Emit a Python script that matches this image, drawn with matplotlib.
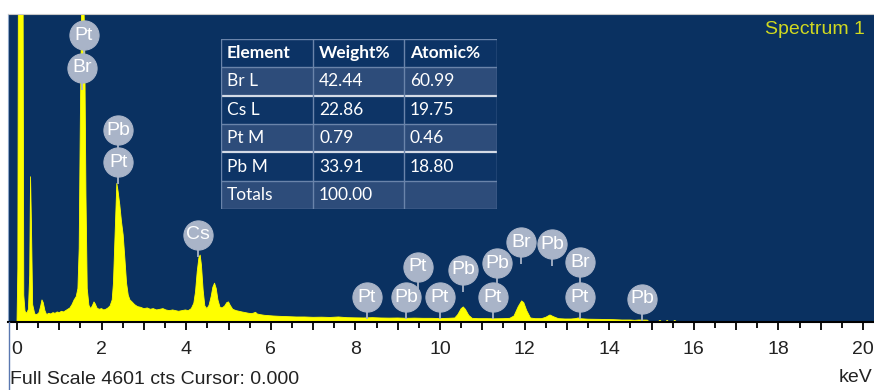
import numpy as np
import matplotlib
matplotlib.use("Agg")
import matplotlib.pyplot as plt
from matplotlib.ticker import MultipleLocator, FuncFormatter
from matplotlib.patches import Rectangle
from matplotlib.lines import Line2D

# EDS spectrum, energy (keV) vs counts
energy = [0.00, 0.02, 0.035, 0.09, 0.14, 0.16, 0.19, 0.23, 0.27, 0.30, 0.32, 0.34, 0.37,
          0.42, 0.47, 0.52, 0.56, 0.59, 0.62, 0.66, 0.70, 0.75, 0.80, 0.85, 0.90, 0.95,
          1.00, 1.05, 1.10, 1.15, 1.20, 1.25, 1.30, 1.35, 1.40, 1.44, 1.47, 1.50, 1.53,
          1.57, 1.60, 1.63, 1.66, 1.70, 1.74, 1.78, 1.82, 1.85, 1.89, 1.94, 2.00, 2.05,
          2.10, 2.15, 2.20, 2.25, 2.28, 2.32, 2.36, 2.39, 2.43, 2.47, 2.51, 2.55, 2.59,
          2.63, 2.67, 2.72, 2.78, 2.85, 2.92, 3.00, 3.08, 3.15, 3.22, 3.30, 3.38, 3.45,
          3.52, 3.60, 3.68, 3.75, 3.82, 3.90, 3.98, 4.05, 4.12, 4.18, 4.22, 4.26, 4.30,
          4.33, 4.36, 4.40, 4.44, 4.49, 4.54, 4.59, 4.63, 4.67, 4.71, 4.75, 4.80, 4.85,
          4.91, 4.96, 5.00, 5.04, 5.10, 5.18, 5.25, 5.32, 5.40, 5.48, 5.55, 5.60, 5.64,
          5.68, 5.75, 5.85, 5.95, 6.05, 6.20, 6.40, 6.60, 6.80, 7.00, 7.20, 7.40, 7.60,
          7.80, 8.00, 8.20, 8.40, 8.60, 8.80, 9.00, 9.20, 9.40, 9.60, 9.80, 10.00, 10.20,
          10.35, 10.42, 10.50, 10.55, 10.60, 10.68, 10.76, 10.90, 11.10, 11.30, 11.50,
          11.65, 11.75, 11.85, 11.93, 11.98, 12.05, 12.14, 12.25, 12.40, 12.50, 12.60,
          12.68, 12.80, 12.95, 13.10, 13.20, 13.27, 13.35, 13.50, 13.70, 13.90, 14.10,
          14.30, 14.50, 14.60, 14.70, 14.90, 14.95, 15.15, 15.20, 15.25, 15.33, 15.37,
          15.41, 15.50, 15.55, 15.60, 20.00]
counts = [0, 800, 6000, 9000, 6000, 400, 160, 130, 190, 700, 2170, 1500, 260,
          120, 110, 140, 240, 330, 290, 170, 110, 130, 120, 140, 130, 150,
          140, 160, 150, 170, 190, 210, 260, 330, 380, 500, 1100, 3200, 4800,
          5100, 4200, 1900, 500, 250, 200, 240, 300, 270, 210, 190, 200, 180,
          190, 210, 240, 330, 580, 1330, 2070, 1950, 1750, 1500, 1300, 950, 580,
          400, 330, 300, 260, 230, 220, 200, 210, 190, 200, 180, 190, 200,
          180, 170, 180, 170, 160, 170, 180, 170, 200, 280, 450, 750, 960,
          1000, 850, 480, 240, 200, 250, 380, 520, 580, 500, 330, 220, 210,
          240, 290, 300, 250, 190, 170, 160, 150, 140, 130, 125, 135, 145,
          120, 110, 100, 95, 90, 85, 80, 75, 75, 70, 72, 68, 75,
          65, 62, 60, 65, 60, 58, 60, 55, 58, 55, 55, 52, 55,
          60, 110, 200, 225, 190, 100, 55, 50, 50, 48, 50,
          55, 90, 230, 315, 290, 170, 60, 50, 50, 70, 105,
          80, 50, 45, 45, 50, 60, 48, 42, 40, 38, 35,
          30, 30, 25, 30, 28, 0, 0, 25, 0, 0, 25,
          0, 0, 25, 0, 0]

# element markers: symbol, energy (keV), badge height (counts)
mark_el = ["Pt", "Br", "Pb", "Pt", "Cs", "Pt", "Pb", "Pt", "Pt", "Pb", "Pb", "Pt",
           "Br", "Pb", "Br", "Pt", "Pb"]
mark_kev = [1.58, 1.54, 2.39, 2.39, 4.28, 8.27, 9.20, 9.48, 10.00, 10.55, 11.35, 11.25,
            11.92, 12.65, 13.31, 13.31, 14.78]
mark_cts = [4287, 3795, 2868, 2390, 1300, 373, 373, 822, 373, 777, 881, 373,
            1195, 1165, 896, 373, 344]

# quantification table
tbl_header = ["Element", "Weight%", "Atomic%"]
tbl_element = ["Br L", "Cs L", "Pt M", "Pb M", "Totals"]
tbl_weight = ["42.44", "22.86", "0.79", "33.91", "100.00"]
tbl_atomic = ["60.99", "19.75", "0.46", "18.80", ""]

full_scale = 4601
bg = "#0a3161"
badge = "#a9b4c8"

W, H = 874, 390
fig = plt.figure(figsize=(W / 100, H / 100), dpi=100)
ax = fig.add_axes([8 / W, (H - 322) / H, (W - 8) / W, (322 - 14) / H])
ax.set_facecolor(bg)

ax.fill_between(energy, counts, 0, color="#ffff00", edgecolor="#ffff00", linewidth=0.6, zorder=2)
ax.set_xlim(-0.213, 20.26)
ax.set_ylim(0, full_scale)

# badges with short stems
px = full_scale / 308.0
for el, e, c in zip(mark_el, mark_kev, mark_cts):
    ax.plot([e, e], [c - 22 * px, c], color=badge, lw=1.3, zorder=3, solid_capstyle="butt")
    ax.plot(e, c, "o", ms=21, mfc=badge, mec=badge, mew=0.8, zorder=4)
    ax.text(e, c, el, ha="center", va="center", color="white", fontsize=14,
            family="Liberation Sans", zorder=5)

ax.text(0.9896, 0.951, "Spectrum 1", transform=ax.transAxes, ha="right", va="center",
        color="#d0d820", fontsize=14, family="Liberation Sans")

ax.xaxis.set_major_locator(MultipleLocator(1))
ax.xaxis.set_minor_locator(MultipleLocator(0.5))
ax.xaxis.set_major_formatter(FuncFormatter(lambda v, p: "%d" % v if round(v) % 2 == 0 else ""))
ax.tick_params(axis="x", which="major", direction="out", length=6, width=1.3, pad=8,
               labelsize=14, colors="black")
ax.tick_params(axis="x", which="minor", direction="out", length=4, width=1.3)
for lab in ax.get_xticklabels():
    lab.set_family("Liberation Sans")
    lab.set_color("#222222")
ax.set_yticks([])

ax.spines["bottom"].set_color("black")
ax.spines["bottom"].set_linewidth(1.5)
ax.spines["top"].set_color("#c8c8c8")
ax.spines["left"].set_color("#8ea6c8")
ax.spines["right"].set_visible(False)

fig.text(10 / W, (H - 380) / H, "Full Scale 4601 cts Cursor: 0.000", ha="left", va="center",
         fontsize=14, family="Liberation Sans", color="#222222")
fig.text(872 / W, (H - 378) / H, "keV", ha="right", va="center",
         fontsize=14, family="Liberation Sans", color="#222222")
fig.add_artist(Line2D([8.5 / W, 8.5 / W], [0, (H - 322) / H], color="#5a78b0", lw=1))

# table drawn in its own pixel-scaled axes
tx = fig.add_axes([221 / W, (H - 209) / H, 276 / W, 170 / H])
tx.set_xlim(0, 276)
tx.set_ylim(170, 0)
tx.axis("off")
col_x = [0, 92, 183, 276]
row_h = 170 / 6.0
row_cols = ["#0c3365", "#2d4c7a", "#0d3466", "#2d4c7a", "#0d3466", "#2d4c7a"]
rows = [tbl_header] + [[a, b, c] for a, b, c in zip(tbl_element, tbl_weight, tbl_atomic)]
for i, row in enumerate(rows):
    tx.add_patch(Rectangle((0, i * row_h), 276, row_h, facecolor=row_cols[i],
                           edgecolor="none", zorder=1))
    for j, s in enumerate(row):
        tx.text(col_x[j] + 6, (i + 0.5) * row_h, s, ha="left", va="center", color="white",
                fontsize=12.5, family="Lato", fontweight="bold" if i == 0 else "normal", zorder=3)
grid = "#6a84aa"
for i in range(7):
    lw, col = 1.0, grid
    if i in (2, 4):
        lw, col = 1.6, "#d4dbe6"
    tx.plot([0, 276], [i * row_h, i * row_h], color=col, lw=lw, zorder=2)
for xv in col_x:
    tx.plot([xv, xv], [0, 170], color=grid, lw=1.0, zorder=2)

fig.savefig("out.png", dpi=100, facecolor="white")
